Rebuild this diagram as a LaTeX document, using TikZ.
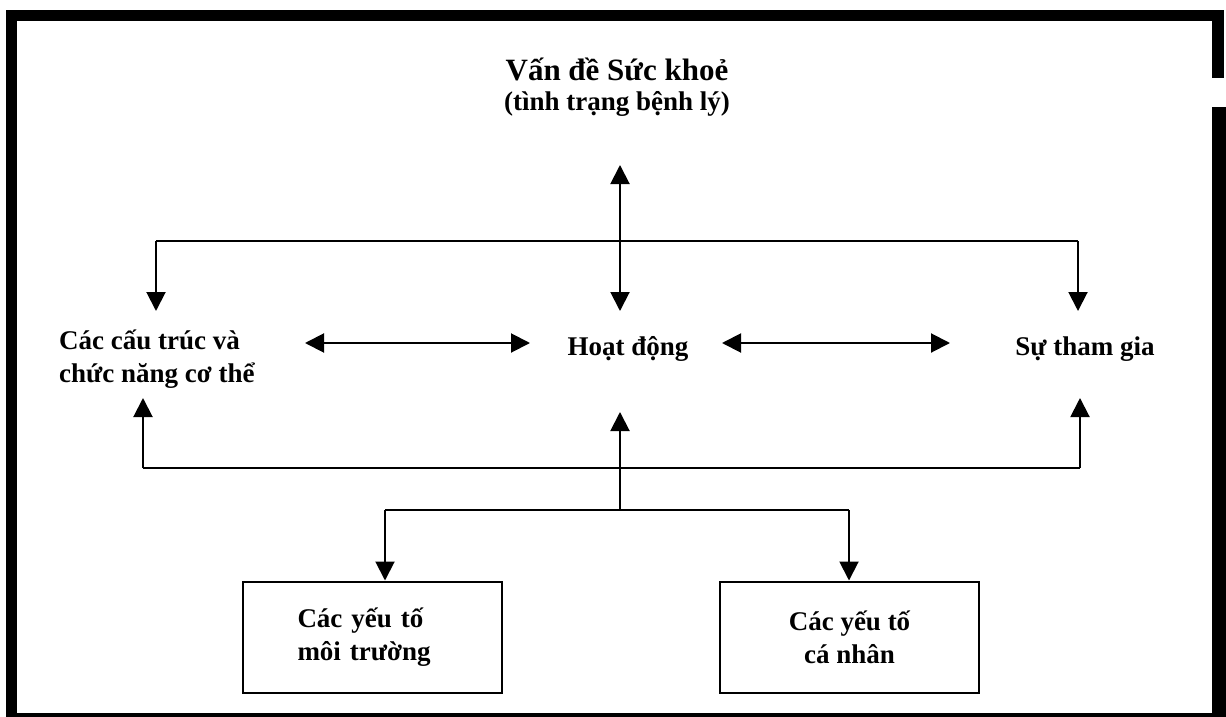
\documentclass[tikz,border=0pt]{standalone}
\usepackage{fontspec}
\setmainfont{Liberation Serif}
\usetikzlibrary{arrows.meta,positioning}
\tikzset{
	term/.style={
		font=\fontsize{27}{33}\selectfont\bfseries,
		inner sep=0pt
	},
	factor/.style={
		draw,
		line width=2pt,
		minimum width=259pt,
		minimum height=111pt,
		font=\fontsize{27}{33}\selectfont\bfseries
	},
	link/.style={line width=2pt},
	arr/.style={link, -{Triangle[length=19pt,width=19pt]}},
	dblarr/.style={link, {Triangle[length=19pt,width=19pt]}-{Triangle[length=19pt,width=19pt]}}
}

\begin{document}
\begin{tikzpicture}[x=1pt,y=-1pt]
\useasboundingbox (0,0) rectangle (1226,717);
% frame
\fill (6,10) rectangle (1224,21);
\fill (6,10) rectangle (17,717);
\fill (1212,10) rectangle (1224,78);
\fill (1212,107) rectangle (1226,717);
\fill (6,713) rectangle (1226,717);

\node [term, align=center] (health) at (617,87) {{\fontsize{31}{30}\selectfont Vấn đề Sức khoẻ}\\[-3pt](tình trạng bệnh lý)};
\node [term, anchor=base] (act) at (628,355) {Hoạt động};
\node [term, anchor=base] (part) at (1085,355) {Sự tham gia};
\node [term, align=left, anchor=base west] (body) at (59,382) {Các cấu trúc và\\chức năng cơ thể};
\node [factor, align=left, text width=150pt] (env) at (372.5,637) {Các yếu tố\\môi trường};
\node [factor, align=center] (pers) at (849.5,637) {Các yếu tố\\cá nhân};

% upper links
\coordinate (top-l) at (156,241);
\coordinate (top-r) at (1078,241);
\coordinate (body-in) at (156,311);
\coordinate (part-in) at (1078,311);
\coordinate (health-out) at (620,165);
\coordinate (act-in) at (620,311);
\draw [link] (top-l) -- (top-r);
\draw [arr] (top-l) -- (body-in);
\draw [arr] (top-r) -- (part-in);
\draw [dblarr] (health-out) -- (act-in);

% side links
\coordinate (body-e) at (305,343);
\coordinate (act-w) at (530,343);
\coordinate (act-e) at (722,343);
\coordinate (part-w) at (950,343);
\draw [dblarr] (body-e) -- (act-w);
\draw [dblarr] (act-e) -- (part-w);

% lower links
\coordinate (low-l) at (143,468);
\coordinate (low-r) at (1080,468);
\coordinate (body-up) at (143,398);
\coordinate (part-up) at (1080,398);
\coordinate (fac-l) at (385,510);
\coordinate (fac-m) at (620,510);
\coordinate (fac-r) at (849,510);
\coordinate (act-up) at (620,412);
\draw [link] (low-l) -- (low-r);
\draw [arr] (low-l) -- (body-up);
\draw [arr] (low-r) -- (part-up);
\draw [arr] (fac-m) -- (act-up);
\draw [link] (fac-l) -- (fac-r);
\draw [arr] (fac-l) -- (fac-l |- env.north);
\draw [arr] (fac-r) -- (fac-r |- pers.north);
\end{tikzpicture}
\end{document}
